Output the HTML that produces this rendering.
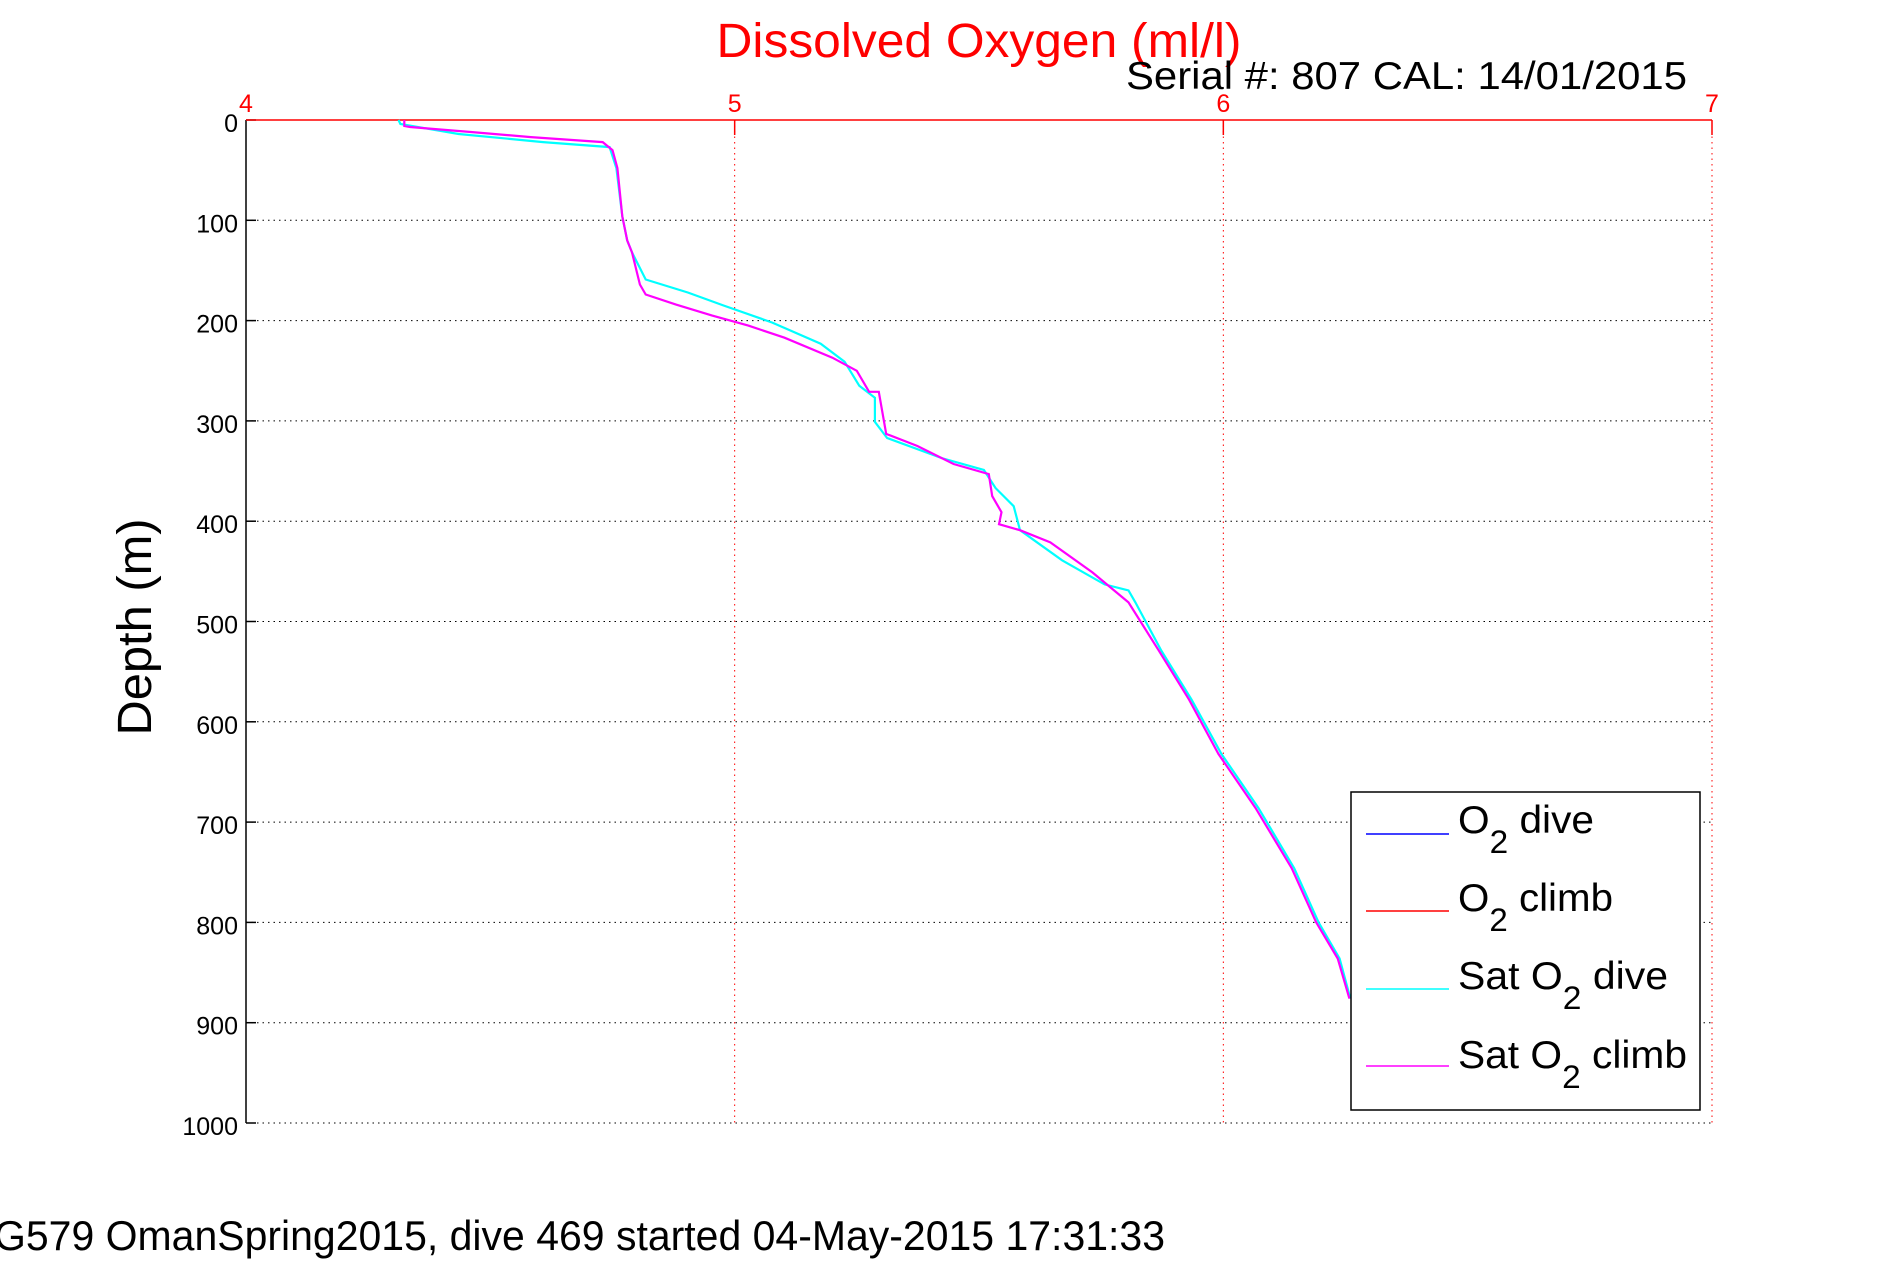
<!DOCTYPE html>
<html><head><meta charset="utf-8"><style>
html,body{margin:0;padding:0;background:#fff;}
svg{display:block;font-family:"Liberation Sans",sans-serif;}
</style></head><body>
<svg id="chart" width="1891" height="1262" viewBox="0 0 1891 1262">
<text x="979" y="57" font-size="48" fill="#ff0000" text-anchor="middle" textLength="525" lengthAdjust="spacingAndGlyphs">Dissolved Oxygen (ml/l)</text>
<text x="1126" y="89" font-size="39" fill="#000" textLength="561" lengthAdjust="spacingAndGlyphs">Serial #: 807  CAL: 14/01/2015</text>
<text transform="translate(151,627) rotate(-90)" font-size="48" fill="#000" text-anchor="middle" textLength="217" lengthAdjust="spacingAndGlyphs">Depth (m)</text>
<text x="-6" y="1250" font-size="42" fill="#000" textLength="1171" lengthAdjust="spacingAndGlyphs">G579 OmanSpring2015, dive 469 started 04-May-2015 17:31:33</text>
<g id="grid"></g>
<g id="axes"></g>
<g id="series"></g>
<g>
<rect x="1351" y="792" width="349" height="318" fill="#fff" stroke="#000" stroke-width="1.5"/>
<g>
<line x1="1366" y1="834" x2="1449" y2="834" stroke="#0000ff" stroke-width="1.5"/>
<text x="1458" y="833" font-size="39" textLength="136" lengthAdjust="spacingAndGlyphs">O<tspan dy="20" font-size="32">2</tspan><tspan dy="-20"> dive</tspan></text></g>
<g>
<line x1="1366" y1="911" x2="1449" y2="911" stroke="#ff0000" stroke-width="1.5"/>
<text x="1458" y="911" font-size="39" textLength="155" lengthAdjust="spacingAndGlyphs">O<tspan dy="20" font-size="32">2</tspan><tspan dy="-20"> climb</tspan></text></g>
<g>
<line x1="1366" y1="989" x2="1449" y2="989" stroke="#00ffff" stroke-width="1.5"/>
<text x="1458" y="989" font-size="39" textLength="210" lengthAdjust="spacingAndGlyphs">Sat O<tspan dy="20" font-size="32">2</tspan><tspan dy="-20"> dive</tspan></text></g>
<g>
<line x1="1366" y1="1066" x2="1449" y2="1066" stroke="#ff00ff" stroke-width="1.5"/>
<text x="1458" y="1068" font-size="39" textLength="229" lengthAdjust="spacingAndGlyphs">Sat O<tspan dy="20" font-size="32">2</tspan><tspan dy="-20"> climb</tspan></text></g>
</g>
</svg>
<script>
const xTicks = [4, 5, 6, 7];
const yTicks = [0, 100, 200, 300, 400, 500, 600, 700, 800, 900, 1000];
const climbDepth = [0,6,7,12,17,22,30,48,96,120,132,164,174,184,195,205,217,237,250,271,271,313,325,343,353,375,391,403,409,421,451,481,529,578,632,686,746,800,836,876];
const climbO2 = [4.324,4.324,4.336,4.46,4.583,4.73,4.75,4.76,4.77,4.78,4.79,4.806,4.818,4.88,4.954,5.028,5.102,5.20,5.25,5.275,5.295,5.31,5.374,5.448,5.52,5.527,5.546,5.541,5.584,5.646,5.732,5.806,5.868,5.93,5.99,6.066,6.14,6.19,6.234,6.258];
const diveDepth = [0,4,14,22,27,48,96,120,132,159,172,185,202,223,241,265,277,301,317,337,349,367,385,409,439,463,469,481,529,578,632,686,746,800,836,876];
const diveO2 = [4.312,4.316,4.435,4.608,4.744,4.758,4.77,4.78,4.79,4.818,4.904,4.978,5.077,5.176,5.225,5.255,5.287,5.287,5.312,5.423,5.51,5.534,5.571,5.584,5.67,5.757,5.806,5.82,5.873,5.935,5.996,6.072,6.145,6.195,6.238,6.26];

const NS = "http://www.w3.org/2000/svg";
const L = 246, R = 1712, T = 120, B = 1123;
const xS = v => L + (v - 4) / 3 * (R - L);
const yS = d => T + d / 1000 * (B - T);
function mk(tag, attrs, parent) {
  const e = document.createElementNS(NS, tag);
  for (const k in attrs) e.setAttribute(k, attrs[k]);
  parent.appendChild(e);
  return e;
}
const grid = document.getElementById('grid');
const axes = document.getElementById('axes');
const series = document.getElementById('series');

yTicks.forEach(t => {
  const g = mk('line', {x1: L, x2: R, y1: yS(t), y2: yS(t), stroke: '#000', 'stroke-width': 1, 'stroke-dasharray': '1.5 4'}, grid);
  
  
  const tk = mk('line', {x1: L, x2: L + 10, y1: yS(t), y2: yS(t), stroke: '#000', 'stroke-width': 1.5}, axes);
  
  
  const lb = mk('text', {x: L - 8, y: yS(t) + 12, 'font-size': 25, 'text-anchor': 'end', fill: '#000'}, axes);
  
  
  lb.textContent = t;
});
xTicks.forEach(t => {
  if (t > 4) {
    const g = mk('line', {x1: xS(t), x2: xS(t), y1: T, y2: B, stroke: '#ff0000', 'stroke-width': 1, 'stroke-dasharray': '1.5 4'}, grid);
    
    
    const tk = mk('line', {x1: xS(t), x2: xS(t), y1: T, y2: T + 15, stroke: '#ff0000', 'stroke-width': 1.5}, axes);
    
    
  }
  const lb = mk('text', {x: xS(t), y: 112, 'font-size': 25, 'text-anchor': 'middle', fill: '#ff0000'}, axes);
  
  
  lb.textContent = t;
});
const la = mk('line', {x1: L, x2: L, y1: T, y2: B, stroke: '#000', 'stroke-width': 1.5}, axes);


const ta = mk('line', {x1: L, x2: R, y1: T, y2: T, stroke: '#ff0000', 'stroke-width': 1.5}, axes);



function path(xs, ds, color, name) {
  const pts = xs.map((v, i) => xS(v).toFixed(1) + ',' + yS(ds[i]).toFixed(1)).join(' ');
  const p = mk('polyline', {points: pts, fill: 'none', stroke: color, 'stroke-width': 2.2, 'stroke-linejoin': 'miter'}, series);
  
  
}
path(diveO2, diveDepth, '#00ffff', 'sat-o2-dive-line');
path(climbO2, climbDepth, '#ff00ff', 'sat-o2-climb-line');
</script>
</body></html>
